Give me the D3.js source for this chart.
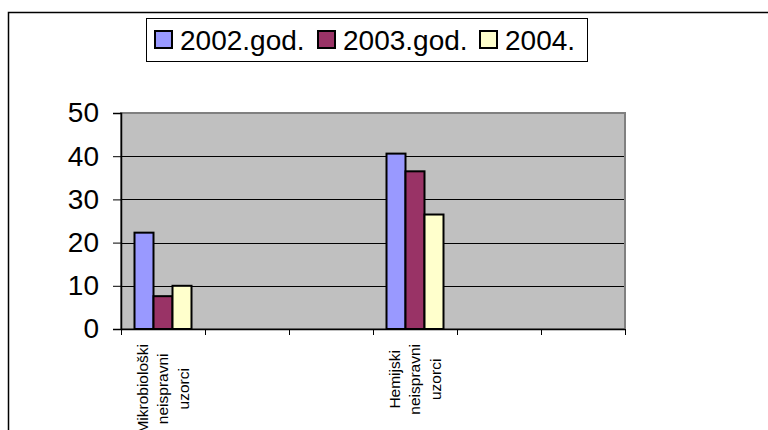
<!DOCTYPE html>
<html>
<head>
<meta charset="utf-8">
<script src="https://cdn.jsdelivr.net/npm/d3@7"></script>
<style>
  html, body { margin: 0; padding: 0; background: #fff; }
  svg { display: block; font-family: "Liberation Sans", Arial, sans-serif; }
</style>
</head>
<body>
<svg id="chart" width="768" height="430"></svg>
<script>
// data
const categories = ['Mikrobiološki neispravni uzorci', 'c2', 'c3', 'Hemijski neispravni uzorci', 'c5', 'c6'];
const categoryLines = [['Mikrobiološki', 'neispravni', 'uzorci'], [], [], ['Hemijski', 'neispravni', 'uzorci'], [], []];
const seriesNames = ['2002.god.', '2003.god.', '2004.'];
const values2002 = [22.3, null, null, 40.6, null, null];
const values2003 = [7.6, null, null, 36.5, null, null];
const values2004 = [10, null, null, 26.5, null, null];
const yTicks = [0, 10, 20, 30, 40, 50];
const colors = ['#9999FF', '#993366', '#FFFFCC'];

const seriesValues = [values2002, values2003, values2004];

const width = 768, height = 430;
const plot = { left: 121, right: 625, top: 113, bottom: 329 };

const svg = d3.select('#chart');

// outer frame
svg.append('path')
  .attr('d', `M8.5,${height} V12.5 H${width}`)
  .attr('fill', 'none')
  .attr('stroke', '#000')
  .attr('stroke-width', 1.5);

const x0 = d3.scaleBand()
  .domain(categories)
  .range([plot.left, plot.right])
  .padding(0);

const x1 = d3.scaleBand()
  .domain(seriesNames)
  .range([13.5, 70.5])
  .padding(0);

const y = d3.scaleLinear()
  .domain([0, 50])
  .range([plot.bottom, plot.top]);

// plot background
svg.append('rect')
  .attr('x', plot.left)
  .attr('y', plot.top)
  .attr('width', plot.right - plot.left)
  .attr('height', plot.bottom - plot.top)
  .attr('fill', '#C0C0C0')
  .attr('stroke', '#808080')
  .attr('stroke-width', 2);

// gridlines
svg.append('g')
  .selectAll('line')
  .data(yTicks.filter(d => d > 0 && d < 50))
  .join('line')
  .attr('x1', plot.left)
  .attr('x2', plot.right - 1)
  .attr('y1', d => Math.round(y(d)) + 0.5)
  .attr('y2', d => Math.round(y(d)) + 0.5)
  .attr('stroke', '#000')
  .attr('stroke-width', 1);

// bars
const groups = svg.append('g')
  .selectAll('g')
  .data(categories.map((c, i) => ({ c, i })))
  .join('g')
  .attr('transform', d => `translate(${x0(d.c)},0)`);

groups.selectAll('rect')
  .data(d => seriesNames.map((s, k) => ({ s, k, v: seriesValues[k][d.i] })).filter(e => e.v != null))
  .join('rect')
  .attr('x', d => x1(d.s))
  .attr('y', d => y(d.v))
  .attr('width', x1.bandwidth())
  .attr('height', d => y(0) - y(d.v))
  .attr('fill', d => colors[d.k])
  .attr('stroke', '#000')
  .attr('stroke-width', 2);

// y axis
const yAxis = svg.append('g')
  .attr('transform', `translate(${plot.left},0)`)
  .call(d3.axisLeft(y).tickValues(yTicks).tickSize(8).tickPadding(14).tickFormat(d3.format('d')));
yAxis.select('.domain').attr('stroke', '#000').attr('stroke-width', 1.5);
yAxis.selectAll('.tick line').attr('stroke', '#000');
yAxis.selectAll('text')
  .attr('font-size', 28)
  .attr('font-family', '"Liberation Sans", Arial, sans-serif')
  .attr('fill', '#000');

// x axis line and ticks at category boundaries
const xAxis = svg.append('g')
  .attr('transform', `translate(0,${plot.bottom})`);
xAxis.append('line')
  .attr('x1', plot.left)
  .attr('x2', plot.right)
  .attr('y1', 0.5)
  .attr('y2', 0.5)
  .attr('stroke', '#000')
  .attr('stroke-width', 1.5);
const bounds = categories.map(c => x0(c)).concat([plot.right]);
xAxis.selectAll('line.tk')
  .data(bounds)
  .join('line')
  .attr('class', 'tk')
  .attr('x1', d => Math.round(d) + 0.5)
  .attr('x2', d => Math.round(d) + 0.5)
  .attr('y1', 0)
  .attr('y2', 6)
  .attr('stroke', '#000');

// category labels, rotated, wrapped
categories.forEach((c, i) => {
  const lines = categoryLines[i];
  if (!lines.length) return;
  const cx = x0(c) + x0.bandwidth() / 2;
  const g = svg.append('g');
  const texts = g.selectAll('text')
    .data(lines)
    .join('text')
    .attr('font-size', 15.5)
    .attr('text-anchor', 'middle')
    .attr('dy', '0.35em')
    .attr('fill', '#000')
    .text(d => d);
  let maxW = 0;
  texts.each(function () { maxW = Math.max(maxW, this.getComputedTextLength()); });
  const cy = 344 + maxW / 2;
  texts.attr('transform', (d, k) => `translate(${cx + (k - (lines.length - 1) / 2) * 20.5},${cy}) rotate(-90)`);
});

// legend
const legend = svg.append('g');
legend.append('rect')
  .attr('x', 146.5)
  .attr('y', 18.5)
  .attr('width', 441)
  .attr('height', 43)
  .attr('fill', '#fff')
  .attr('stroke', '#000')
  .attr('stroke-width', 1);
const legendX = [155, 318, 480];
const items = legend.selectAll('g')
  .data(seriesNames)
  .join('g')
  .attr('transform', (d, k) => `translate(${legendX[k]},31)`);
items.append('rect')
  .attr('width', 17)
  .attr('height', 17)
  .attr('fill', (d, k) => colors[k])
  .attr('stroke', '#000')
  .attr('stroke-width', 2);
items.append('text')
  .attr('x', 25)
  .attr('y', 19)
  .attr('font-size', 28)
  .attr('fill', '#000')
  .text(d => d);
</script>
</body>
</html>
